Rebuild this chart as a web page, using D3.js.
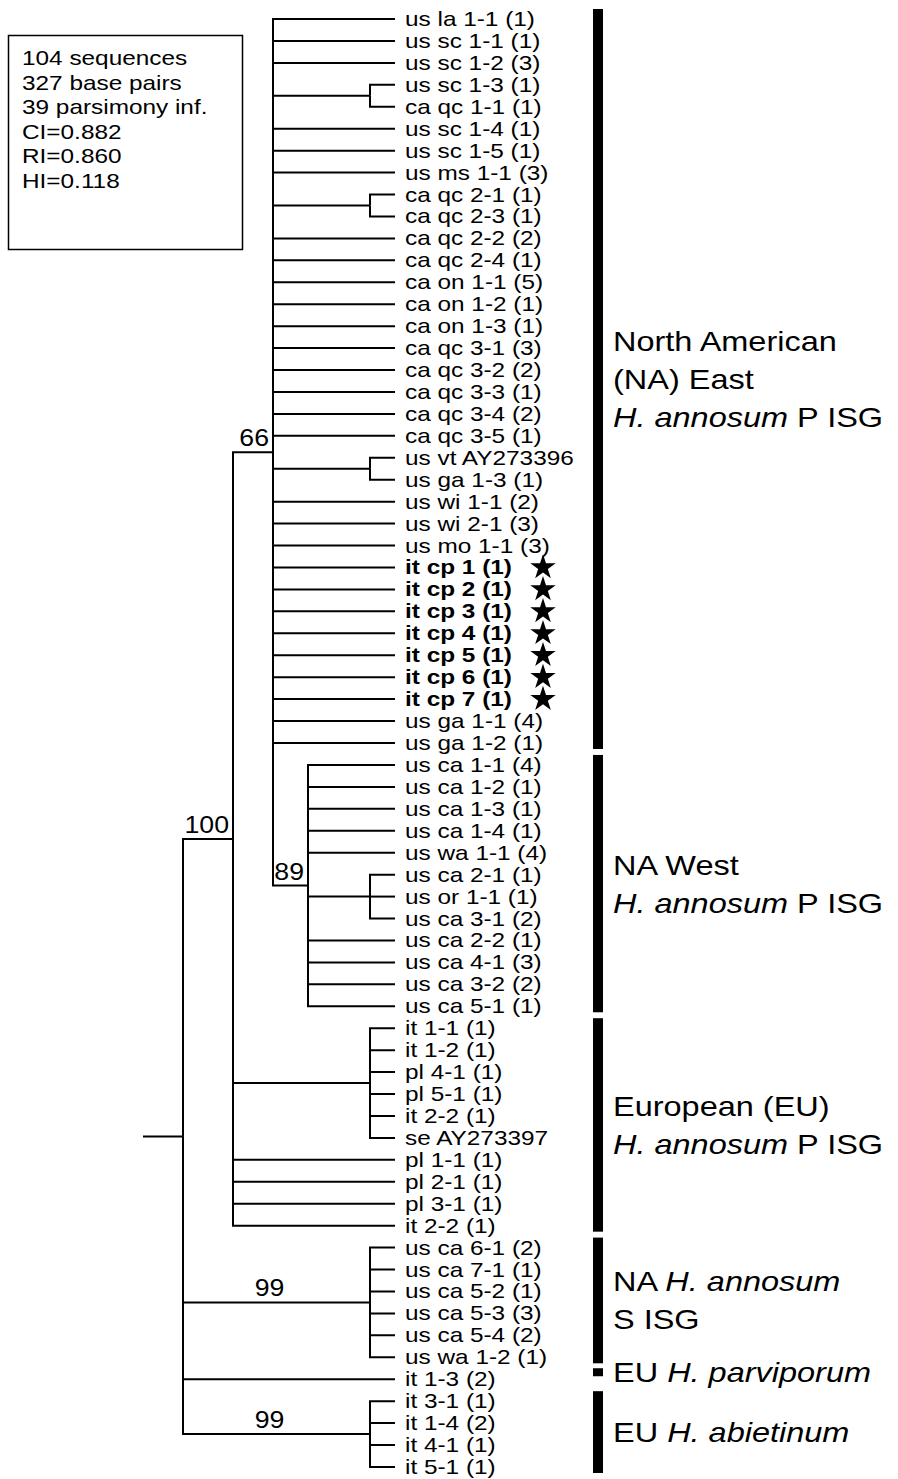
<!DOCTYPE html>
<html>
<head>
<meta charset="utf-8">
<script src="https://cdn.jsdelivr.net/npm/d3@7"></script>
<style>
  body { margin: 0; background: #fff; }
  text { font-family: "Liberation Sans", Arial, Helvetica, sans-serif; fill: #000; }
</style>
</head>
<body>
<div id="tree"></div>
<script>
// leaf labels, top to bottom
const leaves = [
  "us la 1-1 (1)", "us sc 1-1 (1)", "us sc 1-2 (3)", "us sc 1-3 (1)", "ca qc 1-1 (1)",
  "us sc 1-4 (1)", "us sc 1-5 (1)", "us ms 1-1 (3)", "ca qc 2-1 (1)", "ca qc 2-3 (1)",
  "ca qc 2-2 (2)", "ca qc 2-4 (1)", "ca on 1-1 (5)", "ca on 1-2 (1)", "ca on 1-3 (1)",
  "ca qc 3-1 (3)", "ca qc 3-2 (2)", "ca qc 3-3 (1)", "ca qc 3-4 (2)", "ca qc 3-5 (1)",
  "us vt AY273396", "us ga 1-3 (1)", "us wi 1-1 (2)", "us wi 2-1 (3)", "us mo 1-1 (3)",
  "it cp 1 (1)", "it cp 2 (1)", "it cp 3 (1)", "it cp 4 (1)", "it cp 5 (1)", "it cp 6 (1)", "it cp 7 (1)",
  "us ga 1-1 (4)", "us ga 1-2 (1)",
  "us ca 1-1 (4)", "us ca 1-2 (1)", "us ca 1-3 (1)", "us ca 1-4 (1)", "us wa 1-1 (4)",
  "us ca 2-1 (1)", "us or 1-1 (1)", "us ca 3-1 (2)", "us ca 2-2 (1)", "us ca 4-1 (3)",
  "us ca 3-2 (2)", "us ca 5-1 (1)",
  "it 1-1 (1)", "it 1-2 (1)", "pl 4-1 (1)", "pl 5-1 (1)", "it 2-2 (1)", "se AY273397",
  "pl 1-1 (1)", "pl 2-1 (1)", "pl 3-1 (1)", "it 2-2 (1)",
  "us ca 6-1 (2)", "us ca 7-1 (1)", "us ca 5-2 (1)", "us ca 5-3 (3)", "us ca 5-4 (2)", "us wa 1-2 (1)",
  "it 1-3 (2)",
  "it 3-1 (1)", "it 1-4 (2)", "it 4-1 (1)", "it 5-1 (1)"
]

// isolates marked with a star (bold)
const starred = [25, 26, 27, 28, 29, 30, 31]

// topology: leaf indices, bootstrap support after a closing bracket
const newick = "(((0,1,2,(3,4),5,6,7,(8,9),10,11,12,13,14,15,16,17,18,19,(20,21),22,23,24,25,26,27,28,29,30,31,32,33," +
  "(34,35,36,37,38,(39,40,41),42,43,44,45)89)66,(46,47,48,49,50,51),52,53,54,55)100," +
  "(56,57,58,59,60,61)99,62,(63,64,65,66)99)"

// groups on the right
const groupFirst = [0, 34, 46, 56, 62, 63]
const groupLast = [33, 45, 55, 61, 62, 66]
const groupText = [
  ["North American", "(NA) East", "*H. annosum* P ISG"],
  ["NA West", "*H. annosum* P ISG"],
  ["European (EU)", "*H. annosum* P ISG"],
  ["NA *H. annosum*", "S ISG"],
  ["EU *H. parviporum*"],
  ["EU *H. abietinum*"]
]

// info box
const stats = ["104 sequences", "327 base pairs", "39 parsimony inf.", "CI=0.882", "RI=0.860", "HI=0.118"]

const width = 898
const height = 1479
const stretch = 1.16 // the printed type is wider than it is tall

const svg = d3.select("#tree")
  .append("svg")
    .attr("width", width)
    .attr("height", height)

svg.append("rect")
    .attr("width", width)
    .attr("height", height)
    .style("fill", "#fff")

function parseNewick(s) {
  let i = 0
  function node() {
    const n = {}
    if (s[i] === "(") {
      i++
      n.children = [node()]
      while (s[i] === ",") { i++; n.children.push(node()) }
      i++
    }
    let tok = ""
    while (i < s.length && !",()".includes(s[i])) tok += s[i++]
    if (n.children) { if (tok) n.support = tok } else n.leaf = +tok
    return n
  }
  return node()
}

function addText(g, x, y, size, anchor) {
  return g.append("text")
    .attr("transform", "translate(" + x + "," + y + ") scale(" + stretch + ",1)")
    .attr("font-size", size)
    .attr("text-anchor", anchor || "start")
}

// write "*italic* plain" markup as tspans
function richText(t, str) {
  str.split("*").forEach(function(part, k) {
    if (part === "") return
    t.append("tspan").attr("font-style", k % 2 ? "italic" : "normal").text(part)
  })
}

const root = d3.hierarchy(parseNewick(newick))

// cladogram: x by node height, leaves evenly spaced
const x = d3.scaleLinear()
  .domain([0, 1, 2, 3, 4, 5, 6])
  .range([395, 370, 308, 273, 233, 183, 143])

const y = d3.scaleLinear()
  .domain([0, leaves.length - 1])
  .range([19, 1467])

root.eachAfter(function(d) {
  d.x = x(d.height)
  if (d.children) {
    d.y = (d.children[0].y + d.children[d.children.length - 1].y) / 2
  } else {
    d.y = y(d.data.leaf)
  }
})

const tree = svg.append("g")

// branches
tree.selectAll("path.link")
  .data(root.descendants().slice(1))
  .enter()
  .append("path")
    .attr("class", "link")
    .attr("d", function(d) { return "M" + d.parent.x + "," + d.parent.y + "V" + d.y + "H" + d.x })
    .style("fill", "none")
    .style("stroke", "#000")
    .style("stroke-width", 2)

// root stem
tree.append("path")
    .attr("d", "M" + x(root.height + 1) + "," + root.y + "H" + root.x)
    .style("stroke", "#000")
    .style("stroke-width", 2)

// bootstrap values
root.descendants().filter(function(d) { return d.data.support }).forEach(function(d) {
  const long = d.x - d.parent.x > 100
  addText(tree, long ? (d.parent.x + d.x) / 2 - 7 : d.x - 4, d.y - 6, 23, long ? "middle" : "end")
    .text(d.data.support)
})

// leaf labels
root.leaves().forEach(function(d) {
  const t = addText(tree, d.x + 10, d.y + 7, 21).text(leaves[d.data.leaf])
  if (starred.includes(d.data.leaf)) {
    t.attr("font-weight", "bold")
    tree.append("path")
      .attr("transform", "translate(543," + d.y + ")")
      .attr("d", d3.symbol(d3.symbolStar).size(200)())
      .style("fill", "#000")
  }
})

// group bars and names
groupText.forEach(function(lines, i) {
  let top = y(groupFirst[i]) - 10
  let bottom = y(groupLast[i]) + 6
  if (groupFirst[i] === groupLast[i]) { top = y(groupFirst[i]) - 11; bottom = top + 8 }
  svg.append("rect")
    .attr("x", 593)
    .attr("y", top)
    .attr("width", 10)
    .attr("height", bottom - top)
    .style("fill", "#000")
  const mid = (top + bottom) / 2
  lines.forEach(function(line, k) {
    const t = addText(svg, 613, mid + (k - (lines.length - 1) / 2) * 38 + 10, 28)
    richText(t, line)
  })
})

// statistics box
svg.append("rect")
    .attr("x", 8.5)
    .attr("y", 35.5)
    .attr("width", 234)
    .attr("height", 214)
    .style("fill", "none")
    .style("stroke", "#000")
    .style("stroke-width", 1.5)

stats.forEach(function(s, i) {
  addText(svg, 22, 65 + i * 24.6, 21).text(s)
})
</script>
</body>
</html>
